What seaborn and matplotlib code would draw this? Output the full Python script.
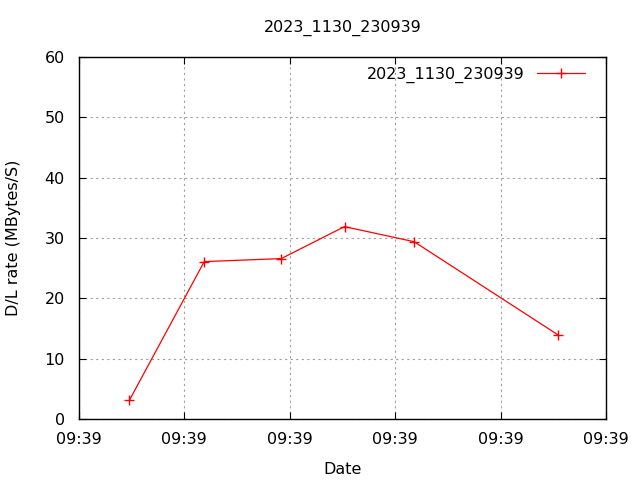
import pandas as pd
import matplotlib.pyplot as plt
import seaborn as sns

# seconds after 09:39:00
seconds = [4.8, 11.9, 19.2, 25.2, 31.8, 45.4]
rate = [3.1, 26.1, 26.6, 31.9, 29.4, 14.0]
series_name = "2023_1130_230939"
x_ticks = [0, 10, 20, 30, 40, 50]
x_tick_labels = ["09:39"] * 6
y_ticks = [0, 10, 20, 30, 40, 50, 60]

df = pd.DataFrame({"Date": seconds, "rate": rate, "run": series_name})

sns.set_theme(style="ticks")
plt.rcParams["font.family"] = ["DejaVu Sans"]
plt.rcParams["text.color"] = "black"
plt.rcParams["axes.labelcolor"] = "black"
plt.rcParams["xtick.color"] = "black"
plt.rcParams["ytick.color"] = "black"

fig = plt.figure(figsize=(6.4, 4.8), dpi=100)
ax = fig.add_axes([0.123, 0.127, 0.824, 0.754])

sns.lineplot(data=df, x="Date", y="rate", hue="run", palette=["red"],
             marker="+", markersize=7, markeredgewidth=1, markeredgecolor="red",
             linewidth=0.9, ax=ax)

ax.set_xlim(0, 50)
ax.set_ylim(0, 60)
ax.set_xticks(x_ticks)
ax.set_xticklabels(x_tick_labels)
ax.set_yticks(y_ticks)
ax.tick_params(direction="in", top=True, right=True, labelsize=11.5, length=5, width=0.8)
ax.tick_params(axis="y", pad=10)
ax.tick_params(axis="x", pad=9)
for s in ax.spines.values():
    s.set_visible(True)
    s.set_color("black")
    s.set_linewidth(1)
ax.grid(True, color="#a0a0a0", linestyle=(0, (2, 3)), linewidth=0.8)

ax.set_xlabel("Date", fontsize=11.5, labelpad=11)
ax.set_ylabel("D/L rate (MBytes/S)", fontsize=11.5, labelpad=17)
ax.set_title(series_name, fontsize=11.5, pad=18)

ax.legend(loc="upper right", frameon=False, markerfirst=False, fontsize=11.5,
          handlelength=3.0, borderaxespad=0.2, bbox_to_anchor=(0.978, 1.0))

fig.savefig("out.png", dpi=100)
